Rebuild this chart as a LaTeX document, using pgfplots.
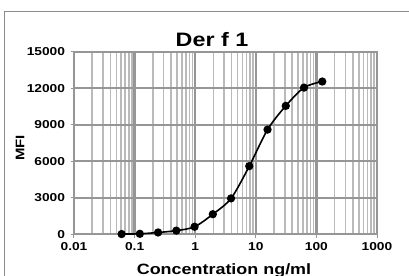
\documentclass[border=0pt]{standalone}
\usepackage{pgfplots}
\pgfplotsset{compat=1.18}
\usepackage{fontspec}
\setmainfont{Liberation Sans}[FakeStretch=1.2]
\definecolor{gridmaj}{HTML}{969696}
\definecolor{gridmin}{HTML}{BABABA}
\definecolor{frame}{HTML}{8C8C8C}
\begin{document}
\begin{tikzpicture}[x=1bp,y=1bp]
\useasboundingbox (0,0) rectangle (409,276);
\draw[color=frame, line width=1.2bp] (4.7,-5) -- (4.7,264.3) -- (420,264.3);
\begin{axis}[
  at={(74bp,41.7bp)}, anchor=south west,
  width=303bp, height=182.6bp, scale only axis,
  xmode=log, xmin=0.01, xmax=1000, ymin=0, ymax=15000,
  scaled y ticks=false,
  xtick={0.01,0.1,1,10,100,1000},
  xticklabels={0.01,0.1,1,10,100,1000},
  ytick={0,3000,6000,9000,12000,15000},
  yticklabels={0,3000,6000,9000,12000,15000},
  grid=both,
  major grid style={color=gridmaj, line width=2.3bp},
  minor grid style={color=gridmin, line width=1.6bp},
  axis line style={color=gridmaj, line width=1.8bp},
  tick align=outside, xtick pos=bottom, ytick pos=left,
  major tick length=3.5bp, minor tick length=0pt,
  tick style={color=gridmaj, line width=1bp},
  ticklabel style={font=\fontsize{11.5}{12}\selectfont\bfseries},
  /pgf/number format/assume math mode=true,
  xticklabel style={yshift=-1bp},
  yticklabel style={xshift=-2bp},
  clip=false,
]
\addplot[black, line width=1.6bp, smooth, tension=0.5,
  mark=*, mark size=3.3bp, mark options={fill=black}]
  coordinates {
  (0.0610,20) (0.1221,40) (0.2441,150) (0.4883,300) (0.9766,620)
  (1.953,1650) (3.906,2950) (7.8125,5600) (15.625,8600)
  (31.25,10550) (62.5,12050) (125,12550)
  };
\end{axis}
\node[anchor=base, font=\fontsize{19.5}{20}\selectfont\bfseries] at (212,230) {Der f 1};
\node[anchor=base, font=\fontsize{15}{16}\selectfont\bfseries] at (224,2) {Concentration ng/ml};
\node[rotate=90, font=\fontsize{12.5}{13}\selectfont\bfseries] at (20,128) {MFI};
\end{tikzpicture}
\end{document}
